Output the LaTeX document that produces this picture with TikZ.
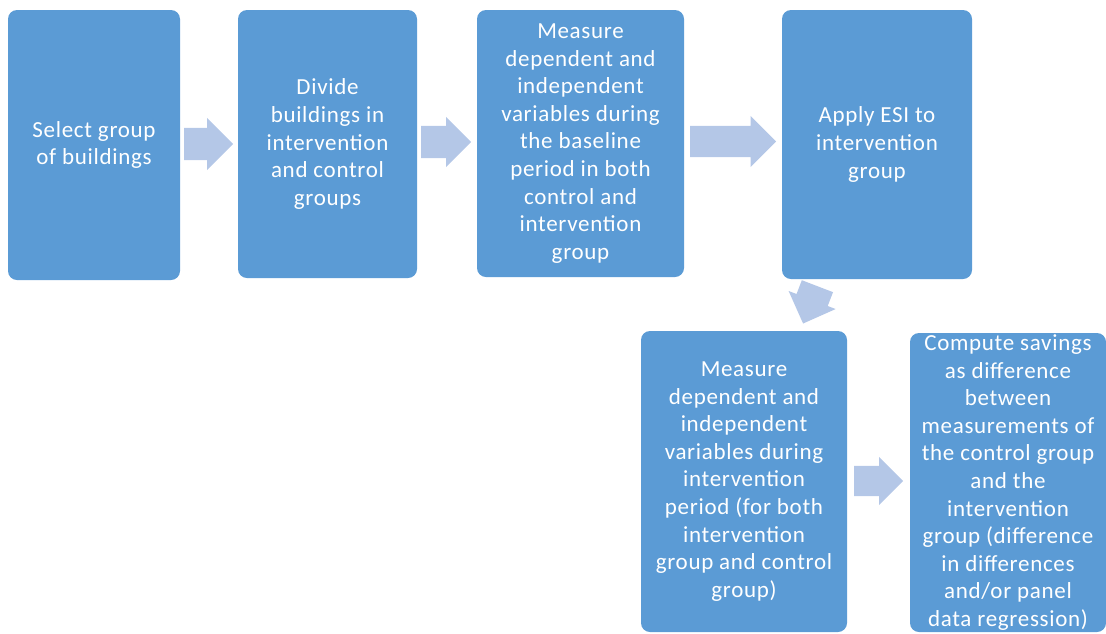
\documentclass[tikz,border=0pt]{standalone}
\usepackage{fontspec}
\setmainfont{Carlito}[LetterSpace=3]
\usetikzlibrary{shapes.arrows}
\definecolor{boxblue}{HTML}{5B9BD5}
\definecolor{arrowblue}{HTML}{B4C7E7}
\begin{document}
\begin{tikzpicture}[x=1pt,y=-1pt,
  stepbox/.style={fill=boxblue, rounded corners=9pt, text=white, align=center,
    font=\fontsize{23}{27.6}\selectfont, inner sep=0pt},
  blockarrow/.style={single arrow, fill=arrowblue, draw=none, inner xsep=0pt,
    single arrow tip angle=90, single arrow head indent=0pt, anchor=tail}]
\useasboundingbox (0,0) rectangle (1106,633);
\node[stepbox, minimum width=172pt, minimum height=270pt] (b1) at (94,145)
  {Select group\\of buildings};
\node[stepbox, minimum width=179pt, minimum height=268pt] (b2) at (327.5,144)
  {Divide\\buildings in\\intervention\\and control\\groups};
\node[stepbox, minimum width=207pt, minimum height=267pt] (b3) at (580.5,143.5)
  {Measure\\dependent and\\independent\\variables during\\the baseline\\period in both\\control and\\intervention\\group};
\node[stepbox, minimum width=190pt, minimum height=269pt] (b4) at (877,144.5)
  {Apply ESI to\\intervention\\group};
\node[stepbox, minimum width=206pt, minimum height=301pt] (b5) at (744,481.5)
  {Measure\\dependent and\\independent\\variables during\\intervention\\period (for both\\intervention\\group and control\\group)};
\node[stepbox, minimum width=196pt, minimum height=299pt] (b6) at (1008,482.5)
  {Compute savings\\as difference\\between\\measurements of\\the control group\\and the\\intervention\\group (difference\\in differences\\and/or panel\\data regression)};
\node[blockarrow, inner ysep=16pt, single arrow head extend=10pt, minimum height=49pt] (a1) at (184,144) {};
\node[blockarrow, inner ysep=16pt, single arrow head extend=9pt, minimum height=50pt] (a2) at (421,142) {};
\node[blockarrow, inner ysep=15.5pt, single arrow head extend=10pt, minimum height=86pt] (a3) at (690,141.5) {};
\node[blockarrow, inner ysep=16.5pt, single arrow head extend=8.5pt, minimum height=40pt, rotate=-111] (a4) at (817.5,286) {};
\node[blockarrow, inner ysep=15pt, single arrow head extend=9pt, minimum height=49pt] (a5) at (854,481) {};
\end{tikzpicture}
\end{document}
